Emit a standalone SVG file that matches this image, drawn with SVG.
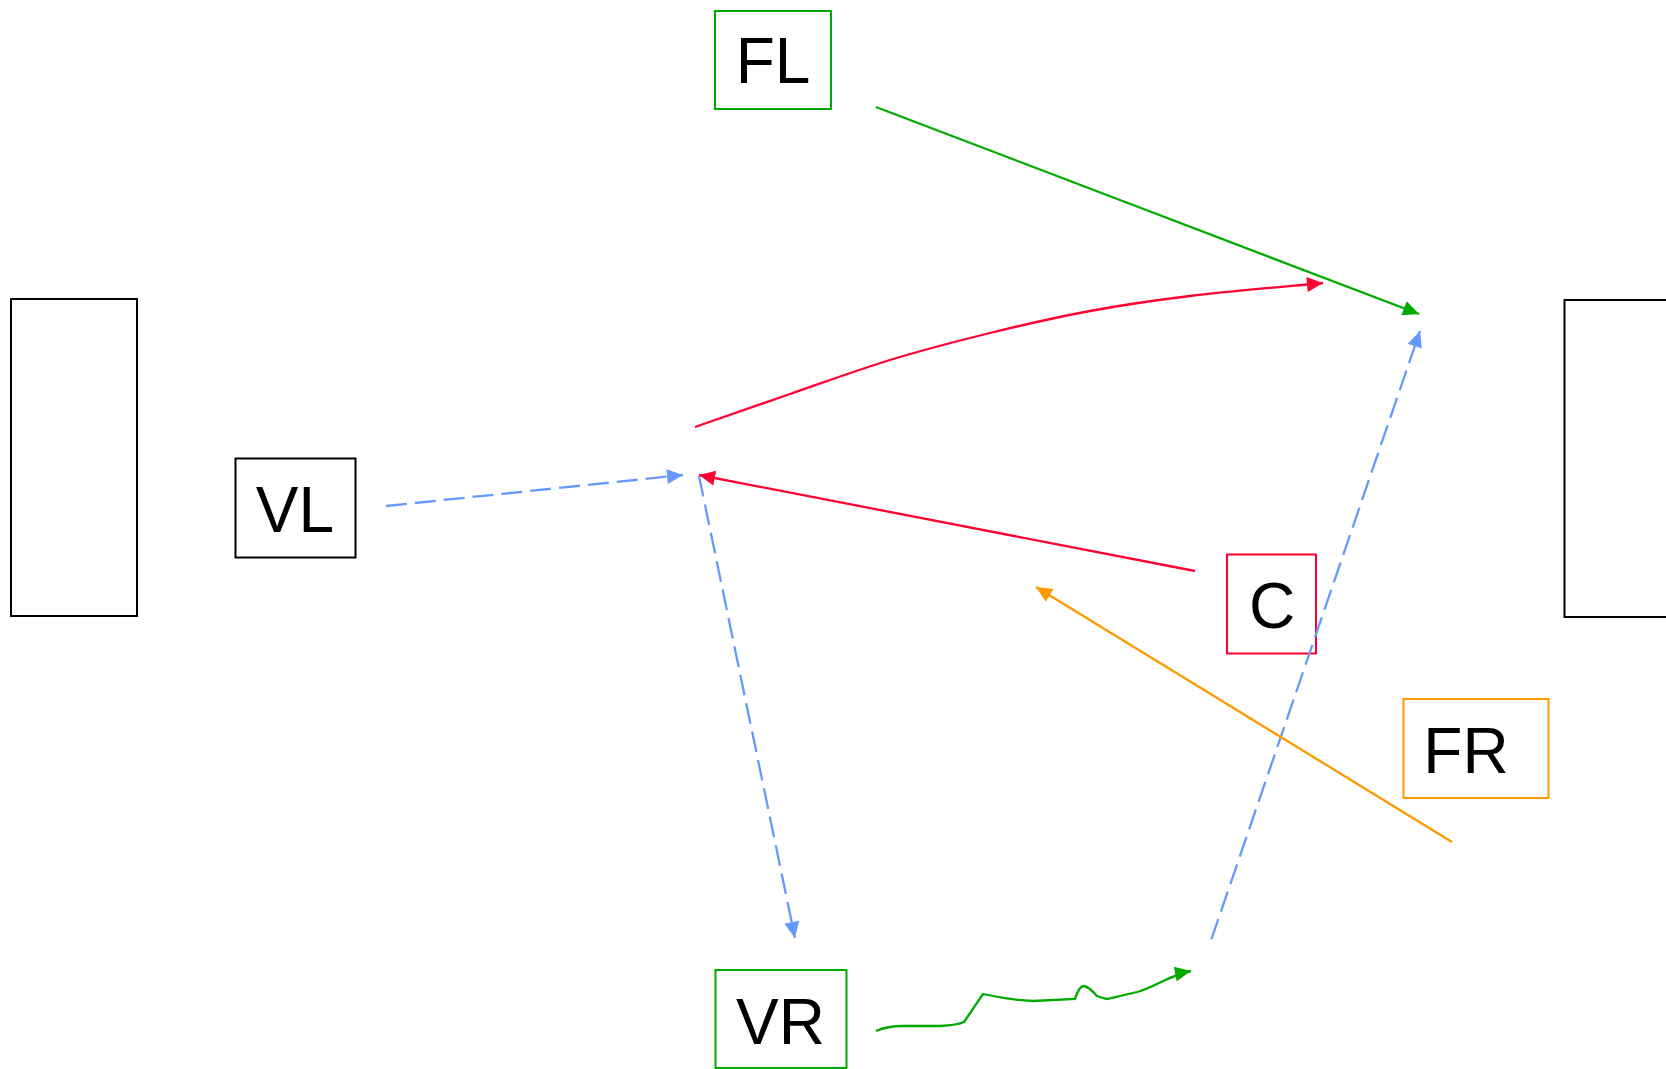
<svg xmlns="http://www.w3.org/2000/svg" width="1666" height="1069" viewBox="0 0 1666 1069">
<style>
.box{fill:#fff;stroke-width:2}
.lbl{font-family:"Liberation Sans",Arial,sans-serif;font-size:64px;fill:#000;text-anchor:middle}
.ln{fill:none;stroke-width:2.3}
.dash{stroke-dasharray:21 8}
</style>
<defs>
<marker id="ag" markerUnits="userSpaceOnUse" markerWidth="20" markerHeight="18" viewBox="0 -9 18 18" refX="16" refY="0" orient="auto"><path d="M0,-7.5 L16,0 L0,7.5 Z" fill="#00AA00"/></marker>
<marker id="ar" markerUnits="userSpaceOnUse" markerWidth="20" markerHeight="18" viewBox="0 -9 18 18" refX="16" refY="0" orient="auto"><path d="M0,-7.5 L16,0 L0,7.5 Z" fill="#FF0033"/></marker>
<marker id="ab" markerUnits="userSpaceOnUse" markerWidth="20" markerHeight="18" viewBox="0 -9 18 18" refX="16" refY="0" orient="auto"><path d="M0,-7.5 L16,0 L0,7.5 Z" fill="#6699FF"/></marker>
<marker id="ao" markerUnits="userSpaceOnUse" markerWidth="20" markerHeight="18" viewBox="0 -9 18 18" refX="16" refY="0" orient="auto"><path d="M0,-7.5 L16,0 L0,7.5 Z" fill="#FF9900"/></marker>
</defs>
<rect width="1666" height="1069" fill="#fff"/>
<g id="wall-left"><rect class="box" x="11" y="299" width="126" height="317" stroke="#000"/></g>
<g id="wall-right"><rect class="box" x="1564.5" y="300" width="120" height="317" stroke="#000"/></g>
<g id="FL"><rect class="box" x="715" y="11" width="116" height="98" stroke="#00AA00"/><text class="lbl" x="773" y="83">FL</text></g>
<g id="VL"><rect class="box" x="235.5" y="458.5" width="120" height="99" stroke="#000"/><text class="lbl" x="295" y="532">VL</text></g>
<g id="C"><rect class="box" x="1227" y="554.5" width="89" height="99" stroke="#FF0033"/><text class="lbl" x="1272" y="628">C</text></g>
<g id="FR"><rect class="box" x="1403.5" y="699" width="145" height="99" stroke="#FF9900"/><text class="lbl" x="1466" y="773">FR</text></g>
<g id="VR"><rect class="box" x="715.5" y="970" width="131" height="98" stroke="#00AA00"/><text class="lbl" x="780.5" y="1044">VR</text></g>
<g id="connectors">
<path class="ln" stroke="#00AA00" d="M876,107 L1419,314" marker-end="url(#ag)"/>
<path class="ln" stroke="#FF0033" d="M695,427 C710.8,421.5 757.5,405.2 790,394 C822.5,382.8 856.7,370.2 890,360 C923.3,349.8 956.7,341.2 990,333 C1023.3,324.8 1056.7,317.2 1090,311 C1123.3,304.8 1151.2,300.7 1190,296 C1228.8,291.3 1300.8,285.2 1323,283" marker-end="url(#ar)"/>
<path class="ln" stroke="#FF0033" d="M1195,571 L699,475" marker-end="url(#ar)"/>
<path class="ln dash" stroke="#6699FF" d="M386,506 L683,475" marker-end="url(#ab)"/>
<path class="ln dash" stroke="#6699FF" d="M699,476 L795,938" marker-end="url(#ab)"/>
<path class="ln dash" stroke="#6699FF" d="M1211.5,939 L1420,331" marker-end="url(#ab)"/>
<path class="ln" stroke="#FF9900" d="M1452,842 L1036,587" marker-end="url(#ao)"/>
<path class="ln" stroke="#00AA00" d="M876,1031 C885,1027 893,1026 903,1026 L940,1026 Q958,1025 964,1022 L983,994 Q1010,1000 1033,1001 L1075,999 Q1079,986 1084,986 Q1089,987 1097,996 Q1102,998 1107,999 L1137,992 C1155,987 1170,975 1191,971" marker-end="url(#ag)"/>
</g>
</svg>
